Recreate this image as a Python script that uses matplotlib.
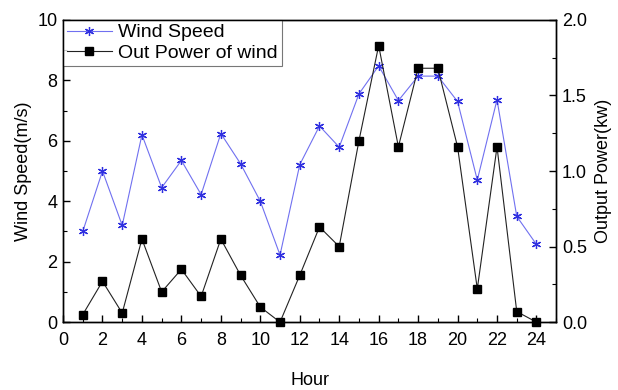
import matplotlib
matplotlib.use("Agg")
import matplotlib.pyplot as plt
from matplotlib.ticker import MultipleLocator, FormatStrFormatter

plt.rcParams['font.family'] = ['Liberation Sans', 'DejaVu Sans']

hours = list(range(1, 25))
wind_speed = [3.0, 5.0, 3.2, 6.2, 4.45, 5.35, 4.22, 6.24, 5.24, 4.0, 2.22, 5.21,
              6.49, 5.79, 7.55, 8.48, 7.33, 8.14, 8.14, 7.3, 4.7, 7.36, 3.5, 2.57]
out_power = [0.05, 0.27, 0.06, 0.55, 0.2, 0.35, 0.17, 0.55, 0.31, 0.1, 0.0, 0.31,
             0.63, 0.5, 1.2, 1.83, 1.16, 1.68, 1.68, 1.16, 0.22, 1.16, 0.07, 0.0]

fig = plt.figure(figsize=(6.18, 3.9), dpi=100)
ax = fig.add_axes([0.102, 0.174, 0.798, 0.775])
ax2 = ax.twinx()

l1, = ax.plot(hours, wind_speed, color='#7070f0', lw=0.8, marker=(6, 2, 0),
              markersize=6.5, markeredgecolor='#3030e0', markeredgewidth=0.9,
              label='Wind Speed')
l2, = ax2.plot(hours, out_power, color='#222222', lw=0.8, marker='s',
               markersize=5.2, markerfacecolor='black', markeredgecolor='black',
               label='Out Power of wind', clip_on=False)

ax.set_xlim(0, 25)
ax.set_ylim(0, 10)
ax2.set_ylim(0, 2.0)
ax.xaxis.set_major_locator(MultipleLocator(2))
ax.xaxis.set_minor_locator(MultipleLocator(1))
ax.yaxis.set_major_locator(MultipleLocator(2))
ax.yaxis.set_minor_locator(MultipleLocator(1))
ax2.yaxis.set_major_locator(MultipleLocator(0.5))
ax2.yaxis.set_minor_locator(MultipleLocator(0.25))
ax2.yaxis.set_major_formatter(FormatStrFormatter('%.1f'))

for a in (ax, ax2):
    a.tick_params(which='major', direction='in', length=5, width=1, labelsize=13)
    a.tick_params(which='minor', direction='in', length=3, width=0.8)
    for s in a.spines.values():
        s.set_linewidth(1.0)
ax.tick_params(axis='x', top=False, pad=7)
ax.tick_params(axis='y', right=False, pad=4)
ax2.tick_params(axis='y', pad=4)

ax.set_xlabel('Hour', fontsize=13, labelpad=17)
ax.set_ylabel('Wind Speed(m/s)', fontsize=13, labelpad=4)
ax2.set_ylabel('Output Power(kw)', fontsize=13, labelpad=6)

leg = ax.legend(handles=[l1, l2], loc='upper left', fontsize=14, frameon=True,
                fancybox=False, edgecolor='#555555', borderaxespad=0,
                handlelength=2.3, handletextpad=0.35, borderpad=0.2,
                labelspacing=0.15)
leg.get_frame().set_linewidth(0.8)
leg.set_zorder(5)

fig.savefig('out.png', dpi=100)
